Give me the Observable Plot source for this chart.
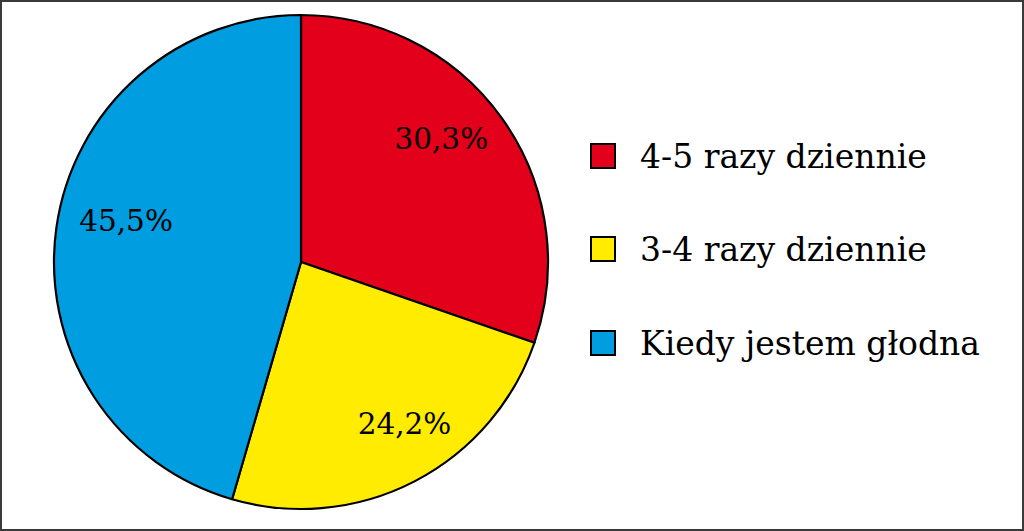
<!DOCTYPE html>
<html>
<head>
<meta charset="utf-8">
<script src="https://cdn.jsdelivr.net/npm/d3@7"></script>
<script src="https://cdn.jsdelivr.net/npm/@observablehq/plot@0.6"></script>
<style>
  html, body { margin: 0; padding: 0; background: #fff; }
  #wrap { position: relative; width: 1024px; height: 531px; overflow: hidden; }
  #frame { position: absolute; left: 0; top: 0; width: 1024px; height: 531px; box-sizing: border-box; border: 2px solid #3a3a3a; pointer-events: none; }
  #chart svg { position: absolute; left: 0; top: 0; }
  .legend { position: absolute; left: 590px; top: 0; font-family: "DejaVu Serif", serif; font-size: 33px; color: #000; }
  .item { position: absolute; left: 0; height: 40px; white-space: nowrap; }
  .sw { position: absolute; left: 0; width: 22px; height: 22px; border: 2px solid #000; }
  .lt { position: absolute; left: 50px; white-space: nowrap; line-height: 1; }
</style>
</head>
<body>
<div id="wrap">
  <div id="chart"></div>
  <div class="legend" id="legend"></div>
  <div id="frame"></div>
</div>
<script>
const categories = ["4-5 razy dziennie", "3-4 razy dziennie", "Kiedy jestem głodna"];
const values = [30.3, 24.2, 45.5];
const labels = ["30,3%", "24,2%", "45,5%"];
const colors = ["#e2001a", "#ffec00", "#009ee0"];

const W = 1024, H = 531;
const CX = 301, CY = 262, R = 247;

const data = categories.map((c, i) => ({category: c, value: values[i], label: labels[i], color: colors[i]}));
const arcs = d3.pie().sort(null).value(d => d.value).startAngle(0).endAngle(2 * Math.PI)(data);

// label placement: offset (degrees) from slice mid-angle and radius fraction
const labelShiftDeg = [-5.8, -5.1, 4.9];
const labelRadius = [0.753, 0.777, 0.729];
const labelData = arcs.map((a, i) => {
  const mid = (a.startAngle + a.endAngle) / 2 + labelShiftDeg[i] * Math.PI / 180;
  return {label: a.data.label, x: labelRadius[i] * Math.sin(mid), y: labelRadius[i] * Math.cos(mid)};
});

function pieMark(index, scales) {
  const x = scales.x, y = scales.y;
  const cx = x(0), cy = y(0), r = x(1) - x(0);
  const g = d3.create("svg:g").attr("transform", `translate(${cx},${cy})`);
  const arc = d3.arc().innerRadius(0).outerRadius(r);
  g.selectAll("path").data(arcs).join("path")
    .attr("d", arc)
    .attr("fill", d => d.data.color)
    .attr("stroke", "#000")
    .attr("stroke-width", 2.2)
    .attr("stroke-linejoin", "round");
  return g.node();
}

const plot = Plot.plot({
  width: W,
  height: H,
  margin: 0,
  x: {domain: [-1, 1], range: [CX - R, CX + R], axis: null},
  y: {domain: [-1, 1], range: [CY + R, CY - R], axis: null},
  style: {background: "transparent"},
  marks: [
    pieMark,
    Plot.text(labelData, {
      x: "x", y: "y", text: "label",
      fontFamily: "DejaVu Serif", fontSize: 29.5, fill: "#000", textAnchor: "middle"
    })
  ]
});
document.getElementById("chart").appendChild(plot);

const rowsY = [156, 249, 343];
const legend = d3.select("#legend");
data.forEach((d, i) => {
  const it = legend.append("div").attr("class", "item").style("top", (rowsY[i] - 13) + "px");
  it.append("div").attr("class", "sw").style("background", d.color);
  it.append("span").attr("class", "lt").style("top", "-3px").text(d.category);
});
</script>
</body>
</html>
